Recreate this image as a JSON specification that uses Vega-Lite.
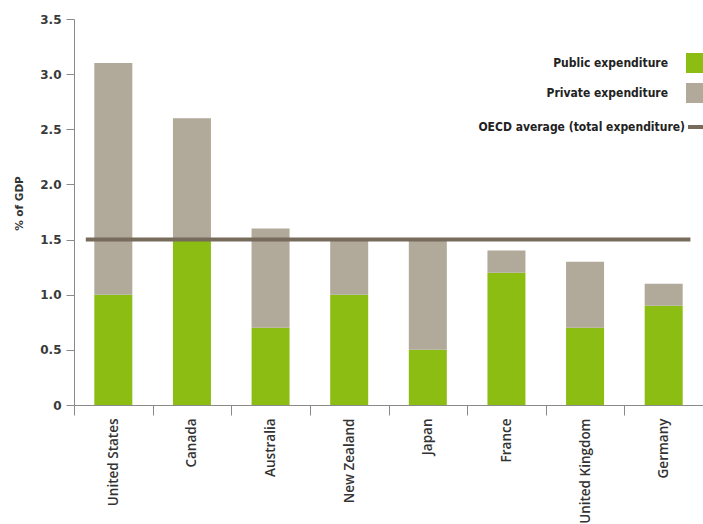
{
  "$schema": "https://vega.github.io/schema/vega-lite/v6.json",
  "width": 629,
  "height": 386,
  "autosize": {"type": "none"},
  "padding": {"left": 74, "top": 19, "right": 0, "bottom": 119},
  "background": "white",
  "config": {"view": {"stroke": null}, "font": "Open Sans"},
  "datasets": {
    "bars": [
      {"country": "United States", "type": "Public expenditure", "ord": 1, "value": 1.0},
      {"country": "United States", "type": "Private expenditure", "ord": 2, "value": 2.1},
      {"country": "Canada", "type": "Public expenditure", "ord": 1, "value": 1.5},
      {"country": "Canada", "type": "Private expenditure", "ord": 2, "value": 1.1},
      {"country": "Australia", "type": "Public expenditure", "ord": 1, "value": 0.7},
      {"country": "Australia", "type": "Private expenditure", "ord": 2, "value": 0.9},
      {"country": "New Zealand", "type": "Public expenditure", "ord": 1, "value": 1.0},
      {"country": "New Zealand", "type": "Private expenditure", "ord": 2, "value": 0.5},
      {"country": "Japan", "type": "Public expenditure", "ord": 1, "value": 0.5},
      {"country": "Japan", "type": "Private expenditure", "ord": 2, "value": 1.0},
      {"country": "France", "type": "Public expenditure", "ord": 1, "value": 1.2},
      {"country": "France", "type": "Private expenditure", "ord": 2, "value": 0.2},
      {"country": "United Kingdom", "type": "Public expenditure", "ord": 1, "value": 0.7},
      {"country": "United Kingdom", "type": "Private expenditure", "ord": 2, "value": 0.6},
      {"country": "Germany", "type": "Public expenditure", "ord": 1, "value": 0.9},
      {"country": "Germany", "type": "Private expenditure", "ord": 2, "value": 0.2}
    ],
    "avg": [
      {"series": "OECD average (total expenditure)", "value": 1.5, "from": "United States", "to": "Germany"}
    ]
  },
  "layer": [
    {
      "data": {"name": "bars"},
      "mark": {"type": "bar", "width": 38},
      "encoding": {
        "x": {
          "field": "country",
          "type": "nominal",
          "sort": null,
          "scale": {
            "domain": ["United States", "Canada", "Australia", "New Zealand", "Japan", "France", "United Kingdom", "Germany"],
            "paddingInner": 0,
            "paddingOuter": 0
          },
          "axis": {
            "title": null,
            "tickBand": "extent",
            "labelAngle": 270,
            "labelAlign": "right",
            "labelBaseline": "middle",
            "labelFont": "Open Sans",
            "labelFontWeight": 600,
            "labelFontSize": 13.5,
            "labelColor": "#333333",
            "labelPadding": 3,
            "tickSize": 10,
            "tickColor": "#8a8a8a",
            "domainColor": "#8a8a8a",
            "grid": false
          }
        },
        "y": {
          "field": "value",
          "type": "quantitative",
          "stack": "zero",
          "scale": {"domain": [0, 3.5], "nice": false},
          "axis": {
            "title": "% of GDP",
            "titleFont": "DejaVu Sans",
            "titleFontWeight": "bold",
            "titleFontSize": 10.5,
            "titleColor": "#333333",
            "titlePadding": 15,
            "titleY": 184,
            "values": [0, 0.5, 1, 1.5, 2, 2.5, 3, 3.5],
            "labelExpr": "datum.value == 0 ? '0' : format(datum.value, '.1f')",
            "labelFont": "DejaVu Sans",
            "labelFontWeight": "bold",
            "labelFontSize": 12,
            "labelColor": "#3a3a3a",
            "labelPadding": 5,
            "tickSize": 8,
            "tickColor": "#8a8a8a",
            "domainColor": "#8a8a8a",
            "grid": false
          }
        },
        "fill": {
          "field": "type",
          "type": "nominal",
          "scale": {"domain": ["Public expenditure", "Private expenditure"], "range": ["#8cbd12", "#b1a999"]},
          "legend": {
            "title": null,
            "orient": "none",
            "legendX": 612,
            "legendY": 34,
            "padding": 0,
            "symbolType": "square",
            "symbolSize": 400,
            "symbolStrokeWidth": 0,
            "rowPadding": 10,
            "labelAlign": "right",
            "labelOffset": -38,
            "labelFont": "DejaVu Sans Condensed",
            "labelFontWeight": "bold",
            "labelFontSize": 12,
            "labelColor": "#222222",
            "labelLimit": 400
          }
        },
        "order": {"field": "ord", "type": "quantitative"}
      }
    },
    {
      "data": {"name": "avg"},
      "mark": {"type": "rule", "strokeWidth": 4},
      "encoding": {
        "y": {"field": "value", "type": "quantitative"},
        "x": {"field": "from", "type": "nominal", "bandPosition": 0.15, "sort": null},
        "x2": {"field": "to", "bandPosition": 0.84},
        "stroke": {
          "field": "series",
          "type": "nominal",
          "scale": {"range": ["#776b5c"]},
          "legend": {
            "title": null,
            "orient": "none",
            "legendX": 612,
            "legendY": 96,
            "padding": 0,
            "symbolType": "stroke",
            "symbolSize": 400,
            "symbolStrokeWidth": 4,
            "labelAlign": "right",
            "labelOffset": -25,
            "labelFont": "DejaVu Sans Condensed",
            "labelFontWeight": "bold",
            "labelFontSize": 12,
            "labelColor": "#222222",
            "labelLimit": 400
          }
        }
      }
    }
  ]
}
